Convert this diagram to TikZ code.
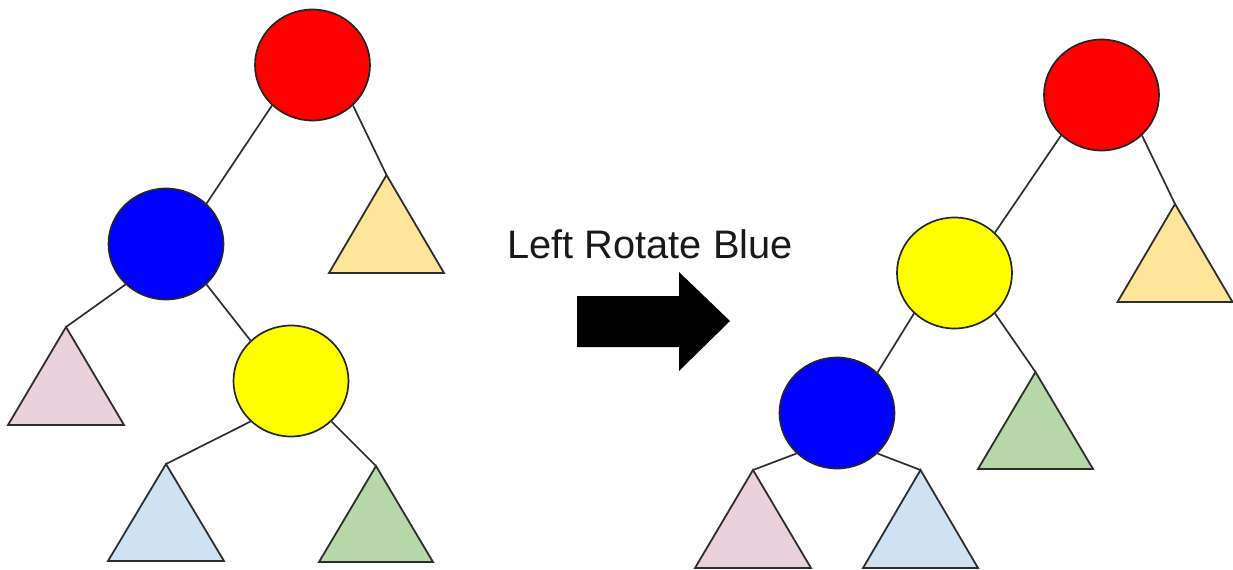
\documentclass[tikz,border=0pt]{standalone}
\usepackage{fontspec}
\setmainfont{Liberation Sans}
\usetikzlibrary{shapes.geometric}
\definecolor{lineC}{HTML}{2E2E2E}
\definecolor{cRed}{HTML}{FF0000}
\definecolor{cBlue}{HTML}{0000FF}
\definecolor{cYellow}{HTML}{FFFF00}
\definecolor{cOrange}{HTML}{FFE599}
\definecolor{cPink}{HTML}{EAD1DC}
\definecolor{cLBlue}{HTML}{CFE2F3}
\definecolor{cGreen}{HTML}{B6D7A8}
\begin{document}
\begin{tikzpicture}[x=0.5pt,y=-0.5pt,
  treenode/.style={ellipse,draw=black!85,line width=0.85pt,minimum width=57.5pt,minimum height=55.5pt,inner sep=0pt},
  edge/.style={draw=lineC,line width=0.85pt},
  subtree/.style={draw=lineC,line width=0.9pt,line join=miter}]
\useasboundingbox (0,0) rectangle (1233,569);

% ---------- left tree ----------
\node[treenode,fill=cRed]    (lr) at (312.5,65) {};
\node[treenode,fill=cBlue]   (lb) at (166,244) {};
\node[treenode,fill=cYellow] (ly) at (291,381) {};

\coordinate (lo)  at (386.5,175);
\coordinate (lp)  at (66,327);
\coordinate (llb) at (166,464);
\coordinate (lg)  at (376,466);
\draw[subtree,fill=cOrange] (lo)  -- ++(57.5,98) -- ++(-115,0) -- cycle;
\draw[subtree,fill=cPink]   (lp)  -- ++(58,98)   -- ++(-116,0) -- cycle;
\draw[subtree,fill=cLBlue]  (llb) -- ++(58,97)   -- ++(-116,0) -- cycle;
\draw[subtree,fill=cGreen]  (lg)  -- ++(57,96)   -- ++(-114,0) -- cycle;

\draw[edge] (lr.225) -- (lb.45);
\draw[edge] (lr.315) -- (lo);
\draw[edge] (lb.225) -- (lp);
\draw[edge] (lb.315) -- (ly.135);
\draw[edge] (ly.225) -- (llb);
\draw[edge] (ly.315) -- (lg);

% ---------- label and arrow ----------
\node[anchor=base west,inner sep=0pt,text=black!90,font=\fontsize{19.9}{24}\selectfont] (lbl) at (507,258) {Left Rotate Blue};
\fill[black] (577,296) -- (679,296) -- (679,272) -- (730,321) -- (679,371) -- (679,347) -- (577,347) -- cycle;

% ---------- right tree ----------
\node[treenode,fill=cRed]    (rr) at (1101.5,95) {};
\node[treenode,fill=cYellow] (ry) at (954.5,273) {};
\node[treenode,fill=cBlue]   (rb) at (837,413) {};

\coordinate (ro)  at (1175,204);
\coordinate (rg)  at (1035.5,372);
\coordinate (rp)  at (753,470);
\coordinate (rlb) at (920.5,470);
\draw[subtree,fill=cOrange] (ro)  -- ++(57.5,98) -- ++(-115,0) -- cycle;
\draw[subtree,fill=cGreen]  (rg)  -- ++(57.5,97) -- ++(-115,0) -- cycle;
\draw[subtree,fill=cPink]   (rp)  -- ++(58,98)   -- ++(-116,0) -- cycle;
\draw[subtree,fill=cLBlue]  (rlb) -- ++(57.5,98) -- ++(-115,0) -- cycle;

\draw[edge] (rr.225) -- (ry.45);
\draw[edge] (rr.315) -- (ro);
\draw[edge] (ry.225) -- (rb.45);
\draw[edge] (ry.315) -- (rg);
\draw[edge] (rb.225) -- (rp);
\draw[edge] (rb.315) -- (rlb);
\end{tikzpicture}
\end{document}
